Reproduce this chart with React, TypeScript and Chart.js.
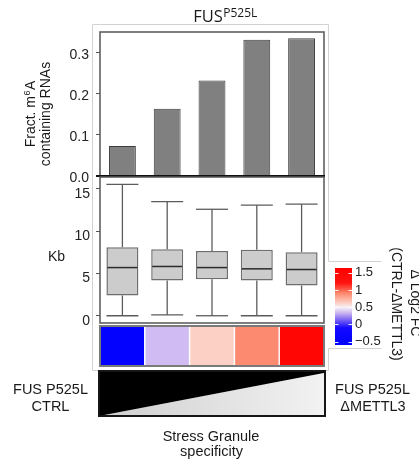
import React, { useEffect, useRef } from "react";
import { Chart, registerables } from "chart.js";

Chart.register(...registerables);
Chart.defaults.font.family = "'Liberation Sans', Arial, sans-serif";

// ---------------- data ----------------
const CATEGORIES = ["SG bin 1", "SG bin 2", "SG bin 3", "SG bin 4", "SG bin 5"];
const M6A_FRACTION = [0.073, 0.164, 0.233, 0.332, 0.336];
const FRACTION_TICKS = [0, 0.1, 0.2, 0.3];

const KB_WHISKER_LOW = [0.0, 0.1, 0.0, 0.0, 0.0];
const KB_Q1 = [2.4, 4.18, 4.33, 4.18, 3.58];
const KB_MEDIAN = [5.7, 5.83, 5.7, 5.55, 5.47];
const KB_Q3 = [8.1, 7.87, 7.67, 7.8, 7.52];
const KB_WHISKER_HIGH = [15.55, 13.5, 12.6, 13.1, 13.2];
const KB_TICKS = [0, 5, 10, 15];

const DELTA_LOG2FC = [-0.5, 0.35, 0.62, 0.9, 1.5];
const COLORBAR_TICKS = [-0.5, 0, 0.5, 1, 1.5];
const COLORBAR_MIN = -0.6;
const COLORBAR_MAX = 1.64;

const SPECIFICITY_RAMP = [
  { x: 0, y: 0 },
  { x: 1, y: 0.96 },
];

const TITLE_MAIN = "FUS";
const TITLE_SUP = "P525L";
const Y1_TITLE = ["Fract. m", "6", "A"];
const Y1_TITLE_2 = "containing RNAs";
const Y2_TITLE = "Kb";
const LEFT_LABEL = ["FUS P525L", "CTRL"];
const RIGHT_LABEL = ["FUS P525L", "ΔMETTL3"];
const X_TITLE = ["Stress Granule", "specificity"];
const LEGEND_TITLE = ["Δ Log2 FC", "(CTRL-ΔMETTL3)"];

// ---------------- layout / style ----------------
const W = 419;
const H = 459;
type Area = { left: number; right: number; top: number; bottom: number };
const BAR_AREA: Area = { left: 100, right: 324, top: 32, bottom: 176 };
const BOX_AREA: Area = { left: 100, right: 324, top: 177, bottom: 323 };
const HEAT_AREA: Area = { left: 100, right: 324, top: 326, bottom: 366 };
const WEDGE_AREA: Area = { left: 99, right: 325, top: 371, bottom: 416 };
const CBAR_AREA: Area = { left: 335, right: 352, top: 268, bottom: 345 };
const AXIS_W = 40;
const FRACTION_AXIS_MAX = 0.351;
const KB_AXIS_MIN = -0.86;
const KB_AXIS_MAX = 16.42;

const FONT = "'Liberation Sans', Arial, sans-serif";
const TEXT_COLOR = "#1a1a1a";

const COLOR_STOPS: [number, [number, number, number]][] = [
  [-0.6, [0, 0, 255]],
  [-0.1, [20, 10, 255]],
  [0.2, [150, 125, 240]],
  [0.35, [208, 188, 242]],
  [0.5, [246, 242, 246]],
  [0.62, [252, 208, 196]],
  [0.9, [252, 138, 112]],
  [1.2, [255, 20, 15]],
  [1.64, [255, 0, 0]],
];

function colorFor(v: number): string {
  if (v <= COLOR_STOPS[0][0]) return rgb(COLOR_STOPS[0][1]);
  for (let i = 1; i < COLOR_STOPS.length; i++) {
    const [v1, c1] = COLOR_STOPS[i];
    const [v0, c0] = COLOR_STOPS[i - 1];
    if (v <= v1) {
      const t = (v - v0) / (v1 - v0);
      return rgb([0, 1, 2].map((k) => Math.round(c0[k] + (c1[k] - c0[k]) * t)) as any);
    }
  }
  return rgb(COLOR_STOPS[COLOR_STOPS.length - 1][1]);
}
function rgb(c: [number, number, number]) {
  return `rgb(${c[0]},${c[1]},${c[2]})`;
}

function makePadding(a: Area, leftAxis = 0, rightAxis = 0) {
  return {
    left: a.left - leftAxis,
    right: W - a.right - rightAxis,
    top: a.top,
    bottom: H - a.bottom,
  };
}

// ---------------- plugins ----------------
const framePlugin = {
  id: "panelFrame",
  afterDatasetsDraw(chart: any, _args: any, opts: any) {
    if (!opts || !opts.color) return;
    const a = chart.chartArea;
    const ctx = chart.ctx;
    ctx.save();
    ctx.strokeStyle = opts.color;
    ctx.lineWidth = opts.width;
    if (opts.bottomColor) {
      ctx.beginPath();
      ctx.moveTo(a.left, a.bottom);
      ctx.lineTo(a.left, a.top);
      ctx.lineTo(a.right, a.top);
      ctx.lineTo(a.right, a.bottom);
      ctx.stroke();
      ctx.strokeStyle = opts.bottomColor;
      ctx.lineWidth = opts.bottomWidth;
      ctx.beginPath();
      ctx.moveTo(a.left - 4, a.bottom);
      ctx.lineTo(a.right + 1, a.bottom);
      ctx.stroke();
    } else {
      ctx.strokeRect(a.left, a.top, a.right - a.left, a.bottom - a.top);
    }
    ctx.restore();
  },
};

const boxWhiskerPlugin = {
  id: "boxWhisker",
  afterDatasetsDraw(chart: any) {
    const meta = chart.getDatasetMeta(0);
    const ys = chart.scales.y;
    const ctx = chart.ctx;
    const line = (x0: number, y0: number, x1: number, y1: number) => {
      ctx.beginPath();
      ctx.moveTo(x0, y0);
      ctx.lineTo(x1, y1);
      ctx.stroke();
    };
    ctx.save();
    meta.data.forEach((el: any, i: number) => {
      const { x, width } = el.getProps(["x", "width"], true);
      const half = width / 2;
      const yLo = ys.getPixelForValue(KB_WHISKER_LOW[i]);
      const yQ1 = ys.getPixelForValue(KB_Q1[i]);
      const yMed = ys.getPixelForValue(KB_MEDIAN[i]);
      const yQ3 = ys.getPixelForValue(KB_Q3[i]);
      const yHi = ys.getPixelForValue(KB_WHISKER_HIGH[i]);
      ctx.strokeStyle = "#5c5c5c";
      ctx.lineWidth = 1.3;
      line(x, yQ3, x, yHi);
      line(x, yQ1, x, yLo);
      line(x - half, yHi, x + half, yHi);
      line(x - half, yLo, x + half, yLo);
      ctx.strokeStyle = "#2a2a2a";
      ctx.lineWidth = 1.5;
      line(x - half + 1, yMed, x + half - 1, yMed);
    });
    ctx.restore();
  },
};

const heatSeparatorPlugin = {
  id: "heatSeparator",
  afterDatasetsDraw(chart: any) {
    const meta = chart.getDatasetMeta(0);
    const a = chart.chartArea;
    const ctx = chart.ctx;
    ctx.save();
    ctx.strokeStyle = "#ffffff";
    ctx.lineWidth = 1.5;
    for (let i = 0; i < meta.data.length - 1; i++) {
      const xm = (meta.data[i].x + meta.data[i + 1].x) / 2;
      ctx.beginPath();
      ctx.moveTo(xm, a.top);
      ctx.lineTo(xm, a.bottom);
      ctx.stroke();
    }
    ctx.restore();
  },
};

const colorbarTickPlugin = {
  id: "colorbarTicks",
  afterDatasetsDraw(chart: any) {
    const a = chart.chartArea;
    const ys = chart.scales.y;
    const ctx = chart.ctx;
    ctx.save();
    ctx.strokeStyle = "rgba(255,255,255,0.9)";
    ctx.lineWidth = 1;
    COLORBAR_TICKS.forEach((v) => {
      const y = Math.round(ys.getPixelForValue(v)) + 0.5;
      ctx.beginPath();
      ctx.moveTo(a.left, y);
      ctx.lineTo(a.left + 3.5, y);
      ctx.moveTo(a.right - 3.5, y);
      ctx.lineTo(a.right, y);
      ctx.stroke();
    });
    ctx.restore();
  },
};

function drawText(
  ctx: CanvasRenderingContext2D,
  s: string,
  x: number,
  y: number,
  font: string,
  align: CanvasTextAlign = "center"
) {
  ctx.font = font;
  ctx.textAlign = align;
  ctx.textBaseline = "alphabetic";
  ctx.fillStyle = TEXT_COLOR;
  ctx.fillText(s, x, y);
}

const annotationPlugin = {
  id: "annotations",
  beforeDraw(chart: any) {
    // light outer frame of the figure
    const ctx = chart.ctx as CanvasRenderingContext2D;
    ctx.save();
    ctx.strokeStyle = "#d2d2d2";
    ctx.lineWidth = 1;
    const L = BAR_AREA.left - 7.5;
    const T = BAR_AREA.top - 7.5;
    const R = BAR_AREA.right + 4.5;
    const B = WEDGE_AREA.top - 0.5;
    const lt = CBAR_AREA.top - 6.5;
    const lb = CBAR_AREA.bottom + 3.5;
    const lr = CBAR_AREA.right + 29.5;
    ctx.beginPath();
    ctx.moveTo(L, T);
    ctx.lineTo(R, T);
    ctx.lineTo(R, lt);
    ctx.lineTo(lr, lt);
    ctx.moveTo(lr, lb);
    ctx.lineTo(R, lb);
    ctx.lineTo(R, B);
    ctx.lineTo(L, B);
    ctx.lineTo(L, T);
    ctx.stroke();
    ctx.restore();
  },
  afterDraw(chart: any) {
    const ctx = chart.ctx as CanvasRenderingContext2D;
    ctx.save();
    // title
    const mainFont = "16.5px 'Open Sans', sans-serif";
    const supFont = "12px 'Open Sans', sans-serif";
    ctx.font = mainFont;
    const w1 = ctx.measureText(TITLE_MAIN).width;
    ctx.font = supFont;
    const w2 = ctx.measureText(TITLE_SUP).width;
    const tx = 225 - (w1 + w2) / 2;
    drawText(ctx, TITLE_MAIN, tx, 21.5, mainFont, "left");
    drawText(ctx, TITLE_SUP, tx + w1 + 0.5, 16.5, supFont, "left");

    // y title of bar panel (rotated)
    const f14 = `14px ${FONT}`;
    const f9 = `9px ${FONT}`;
    ctx.save();
    ctx.translate(34.5, 114);
    ctx.rotate(-Math.PI / 2);
    ctx.font = f14;
    const a1 = ctx.measureText(Y1_TITLE[0]).width;
    const a3 = ctx.measureText(Y1_TITLE[2]).width;
    ctx.font = f9;
    const a2 = ctx.measureText(Y1_TITLE[1]).width;
    const sx = -(a1 + a2 + a3 + 1) / 2;
    drawText(ctx, Y1_TITLE[0], sx, 0, f14, "left");
    drawText(ctx, Y1_TITLE[1], sx + a1 + 0.5, -5, f9, "left");
    drawText(ctx, Y1_TITLE[2], sx + a1 + a2 + 1, 0, f14, "left");
    ctx.restore();
    ctx.save();
    ctx.translate(49.5, 114);
    ctx.rotate(-Math.PI / 2);
    drawText(ctx, Y1_TITLE_2, 0, 0, f14, "center");
    ctx.restore();

    // Kb
    drawText(ctx, Y2_TITLE, 56.5, 261, f14, "center");

    // bottom labels
    const f145 = `14.5px ${FONT}`;
    drawText(ctx, LEFT_LABEL[0], 50.5, 393.5, f145);
    drawText(ctx, LEFT_LABEL[1], 50.5, 411, f145);
    drawText(ctx, RIGHT_LABEL[0], 372.5, 393.5, f145);
    drawText(ctx, RIGHT_LABEL[1], 373, 411, f145);
    drawText(ctx, X_TITLE[0], 211, 441, f145);
    drawText(ctx, X_TITLE[1], 211.5, 456, f145);

    // legend title (rotated clockwise)
    ctx.save();
    ctx.translate(410.5, 303);
    ctx.rotate(Math.PI / 2);
    drawText(ctx, LEGEND_TITLE[0], 0, 0, f14, "center");
    ctx.restore();
    ctx.save();
    ctx.translate(392, 304);
    ctx.rotate(Math.PI / 2);
    drawText(ctx, LEGEND_TITLE[1], 0, 0, f14, "center");
    ctx.restore();

    ctx.restore();
  },
};

// ---------------- configs ----------------
const noPlugins = { legend: { display: false }, tooltip: { enabled: false } };

function barConfig(): any {
  return {
    type: "bar",
    data: {
      labels: CATEGORIES,
      datasets: [
        {
          data: M6A_FRACTION,
          backgroundColor: "#808080",
          borderColor: "#3c3c3c",
          borderWidth: 1,
          barPercentage: 0.6,
          categoryPercentage: 1,
        },
      ],
    },
    options: {
      responsive: false,
      animation: false,
      layout: { padding: makePadding(BAR_AREA, AXIS_W, 0) },
      plugins: {
        ...noPlugins,
        panelFrame: { color: "#555555", width: 1.5, bottomColor: "#111111", bottomWidth: 2 },
      },
      scales: {
        x: { display: false, offset: true },
        y: {
          min: 0,
          max: FRACTION_AXIS_MAX,
          afterFit(s: any) {
            s.width = AXIS_W;
          },
          afterBuildTicks(s: any) {
            s.ticks = FRACTION_TICKS.map((v) => ({ value: v }));
          },
          ticks: {
            callback: (v: any) => Number(v).toFixed(1),
            color: "#222",
            font: { family: FONT, size: 14 },
            padding: 7,
            labelOffset: 2,
          },
          grid: { drawOnChartArea: false, tickLength: 4, color: "#555" },
          border: { display: false },
        },
      },
    },
    plugins: [framePlugin, annotationPlugin],
  };
}

function boxConfig(): any {
  return {
    type: "bar",
    data: {
      labels: CATEGORIES,
      datasets: [
        {
          data: CATEGORIES.map((_, i) => [KB_Q1[i], KB_Q3[i]]),
          backgroundColor: "#cccccc",
          borderColor: "#6e6e6e",
          borderWidth: 1.5,
          borderSkipped: false,
          barPercentage: 0.714,
          categoryPercentage: 1,
        },
      ],
    },
    options: {
      responsive: false,
      animation: false,
      layout: { padding: makePadding(BOX_AREA, AXIS_W, 0) },
      plugins: { ...noPlugins, panelFrame: { color: "#555555", width: 1.5 } },
      scales: {
        x: { display: false, offset: true },
        y: {
          min: KB_AXIS_MIN,
          max: KB_AXIS_MAX,
          afterFit(s: any) {
            s.width = AXIS_W;
          },
          afterBuildTicks(s: any) {
            s.ticks = KB_TICKS.map((v) => ({ value: v }));
          },
          ticks: {
            callback: (v: any) => String(v),
            color: "#222",
            font: { family: FONT, size: 14 },
            padding: 6,
            labelOffset: 5,
          },
          grid: { drawOnChartArea: false, tickLength: 4, color: "#555" },
          border: { display: false },
        },
      },
    },
    plugins: [boxWhiskerPlugin, framePlugin],
  };
}

function heatConfig(): any {
  return {
    type: "bar",
    data: {
      labels: CATEGORIES,
      datasets: [
        {
          data: CATEGORIES.map(() => [0, 1]),
          backgroundColor: DELTA_LOG2FC.map(colorFor),
          borderWidth: 0,
          barPercentage: 1,
          categoryPercentage: 1,
        },
      ],
    },
    options: {
      responsive: false,
      animation: false,
      layout: { padding: makePadding(HEAT_AREA) },
      plugins: { ...noPlugins, panelFrame: { color: "#7a7a7a", width: 2 } },
      scales: {
        x: { display: false, offset: true },
        y: { display: false, min: 0, max: 1 },
      },
    },
    plugins: [heatSeparatorPlugin, framePlugin],
  };
}

function wedgeConfig(): any {
  return {
    type: "line",
    data: {
      datasets: [
        {
          data: SPECIFICITY_RAMP,
          fill: "end",
          backgroundColor: "#000000",
          borderColor: "rgba(0,0,0,0)",
          borderWidth: 0,
          pointRadius: 0,
        },
        {
          data: SPECIFICITY_RAMP,
          fill: "start",
          backgroundColor: (c: any) => {
            const ch = c.chart;
            const a = ch.chartArea;
            if (!a) return "#dddddd";
            const g = ch.ctx.createLinearGradient(a.left, 0, a.right, 0);
            g.addColorStop(0, "#cfcfcf");
            g.addColorStop(1, "#f2f2f2");
            return g;
          },
          borderColor: "rgba(0,0,0,0)",
          borderWidth: 0,
          pointRadius: 0,
        },
      ],
    },
    options: {
      responsive: false,
      animation: false,
      layout: { padding: makePadding(WEDGE_AREA) },
      plugins: { ...noPlugins, panelFrame: { color: "#161616", width: 2 } },
      scales: {
        x: { type: "linear", display: false, min: 0, max: 1 },
        y: { display: false, min: 0, max: 1 },
      },
    },
    plugins: [framePlugin],
  };
}

function colorbarConfig(): any {
  return {
    type: "bar",
    data: {
      labels: ["Δ Log2 FC"],
      datasets: [
        {
          data: [[COLORBAR_MIN, COLORBAR_MAX]],
          backgroundColor: (c: any) => {
            const ch = c.chart;
            const ys = ch.scales && ch.scales.y;
            if (!ys || !ch.chartArea) return "#ffffff";
            const y0 = ys.getPixelForValue(COLORBAR_MIN);
            const y1 = ys.getPixelForValue(COLORBAR_MAX);
            const g = ch.ctx.createLinearGradient(0, y0, 0, y1);
            COLOR_STOPS.forEach(([v, col]) => {
              const t = (v - COLORBAR_MIN) / (COLORBAR_MAX - COLORBAR_MIN);
              g.addColorStop(Math.min(1, Math.max(0, t)), rgb(col));
            });
            return g;
          },
          borderWidth: 0,
          barPercentage: 1,
          categoryPercentage: 1,
        },
      ],
    },
    options: {
      responsive: false,
      animation: false,
      layout: { padding: makePadding(CBAR_AREA, 0, AXIS_W) },
      plugins: { ...noPlugins },
      scales: {
        x: { display: false, offset: true },
        y: {
          position: "right",
          min: COLORBAR_MIN,
          max: COLORBAR_MAX,
          afterFit(s: any) {
            s.width = AXIS_W;
          },
          afterBuildTicks(s: any) {
            s.ticks = COLORBAR_TICKS.map((v) => ({ value: v }));
          },
          ticks: {
            callback: (v: any) => (Number(v) < 0 ? "\u2212" + Math.abs(Number(v)) : String(v)),
            color: "#222",
            font: { family: FONT, size: 13 },
            padding: 3,
          },
          grid: { drawOnChartArea: false, drawTicks: false },
          border: { display: false },
        },
      },
    },
    plugins: [colorbarTickPlugin],
  };
}

export default function App() {
  const barRef = useRef<HTMLCanvasElement>(null);
  const boxRef = useRef<HTMLCanvasElement>(null);
  const heatRef = useRef<HTMLCanvasElement>(null);
  const wedgeRef = useRef<HTMLCanvasElement>(null);
  const cbarRef = useRef<HTMLCanvasElement>(null);

  useEffect(() => {
    const charts: Chart[] = [];
    charts.push(new Chart(barRef.current!, barConfig()));
    charts.push(new Chart(boxRef.current!, boxConfig()));
    charts.push(new Chart(heatRef.current!, heatConfig()));
    charts.push(new Chart(wedgeRef.current!, wedgeConfig()));
    charts.push(new Chart(cbarRef.current!, colorbarConfig()));
    return () => charts.forEach((c) => c.destroy());
  }, []);

  const cs: React.CSSProperties = { position: "absolute", left: 0, top: 0, width: W, height: H };
  return (
    <div style={{ position: "absolute", left: 0, top: 0, width: W, height: H, background: "#ffffff", overflow: "hidden" }}>
      <canvas ref={barRef} width={W} height={H} style={cs} />
      <canvas ref={boxRef} width={W} height={H} style={cs} />
      <canvas ref={heatRef} width={W} height={H} style={cs} />
      <canvas ref={wedgeRef} width={W} height={H} style={cs} />
      <canvas ref={cbarRef} width={W} height={H} style={cs} />
    </div>
  );
}
